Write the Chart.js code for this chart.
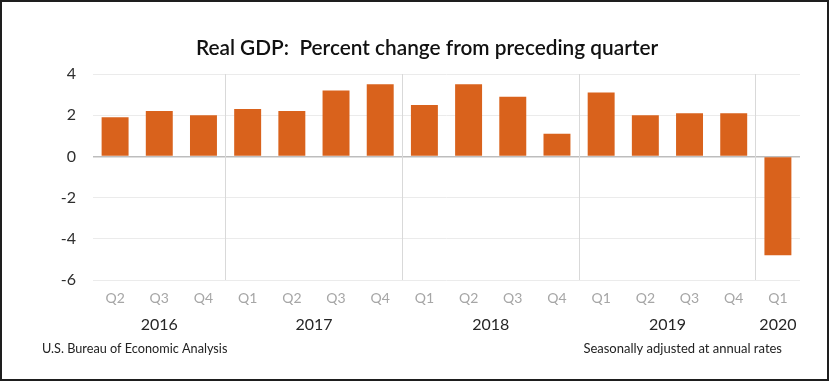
<!DOCTYPE html>
<html>
<head>
<meta charset="utf-8">
<script src="https://cdn.jsdelivr.net/npm/chart.js@4/dist/chart.umd.min.js"></script>
<style>
html,body{margin:0;padding:0;background:#fff;}
#wrap{position:relative;width:831px;height:383px;}
canvas{display:block;}
</style>
</head>
<body>
<div id="wrap"><canvas id="c" width="831" height="383"></canvas></div>
<script>
const titleText = 'Real GDP:  Percent change from preceding quarter';
const quarters = ['Q2','Q3','Q4','Q1','Q2','Q3','Q4','Q1','Q2','Q3','Q4','Q1','Q2','Q3','Q4','Q1'];
const gdpChange = [1.9, 2.2, 2.0, 2.3, 2.2, 3.2, 3.5, 2.5, 3.5, 2.9, 1.1, 3.1, 2.0, 2.1, 2.1, -4.8];
const years = ['2016','2017','2018','2019','2020'];
const quartersPerYear = [3, 4, 4, 4, 1];
const yTicks = [4, 2, 0, -2, -4, -6];
const sourceNote = 'U.S. Bureau of Economic Analysis';
const rateNote = 'Seasonally adjusted at annual rates';

const FONT = 'Lato, "Open Sans", sans-serif';

const yearStarts = [];
{ let s = 0; quartersPerYear.forEach((n,i)=>{ if(i>0) yearStarts.push(s); s += n; }); }

const textPlugin = {
  id: 'texts',
  afterDraw(chart){
    const ctx = chart.ctx;
    const xs = chart.scales.x;
    ctx.save();
    ctx.fillStyle = '#111';
    ctx.font = '600 20.8px ' + FONT;
    ctx.textAlign = 'center';
    ctx.textBaseline = 'middle';
    ctx.fillText(titleText, 427, 48);
    ctx.fillStyle = '#262626';
    ctx.font = '16px ' + FONT;
    let s = 0;
    years.forEach((y,i)=>{
      const a = xs.getPixelForValue(s);
      const b = xs.getPixelForValue(s + quartersPerYear[i] - 1);
      ctx.fillText(y, (a+b)/2, 325);
      s += quartersPerYear[i];
    });
    ctx.fillStyle = '#222';
    ctx.font = '12.7px ' + FONT;
    ctx.textAlign = 'left';
    ctx.fillText(sourceNote, 42, 349);
    ctx.font = '13px ' + FONT;
    ctx.textAlign = 'right';
    ctx.fillText(rateNote, 782, 349);
    ctx.strokeStyle = '#1e1e1e';
    ctx.lineWidth = 2;
    ctx.strokeRect(1, 1, 827, 379);
    ctx.restore();
  }
};

new Chart(document.getElementById('c'), {
  type: 'bar',
  data: {
    labels: quarters,
    datasets: [{
      data: gdpChange,
      backgroundColor: '#d9621c',
      borderWidth: 0,
      barPercentage: 1,
      categoryPercentage: 0.61
    }]
  },
  options: {
    responsive: false,
    animation: false,
    events: [],
    layout: { padding: { top: 74, right: 31, bottom: 0, left: 0 } },
    plugins: { legend: { display: false }, title: { display: false }, tooltip: { enabled: false } },
    scales: {
      y: {
        min: -6, max: 4,
        afterFit(scale){ scale.width = 93; },
        afterBuildTicks(scale){ scale.ticks = yTicks.map(v=>({value:v})); },
        ticks: { color: '#2e2e2e', font: { family: FONT, size: 16 }, padding: 17 },
        grid: {
          drawTicks: false,
          color: (c)=> c.tick && c.tick.value === 0 ? '#bdbdbd' : '#ebebeb',
          lineWidth: (c)=> c.tick && c.tick.value === 0 ? 1.5 : 1
        },
        border: { display: false }
      },
      x: {
        afterFit(scale){ scale.height = 103; },
        ticks: { color: '#a6a6a6', font: { family: FONT, size: 14 }, padding: 10, maxRotation: 0, autoSkip: false },
        grid: {
          offset: true,
          drawTicks: false,
          color: (c)=> yearStarts.includes(c.index) ? '#d9d9d9' : 'rgba(0,0,0,0)'
        },
        border: { display: false }
      }
    }
  },
  plugins: [textPlugin]
});
</script>
</body>
</html>
